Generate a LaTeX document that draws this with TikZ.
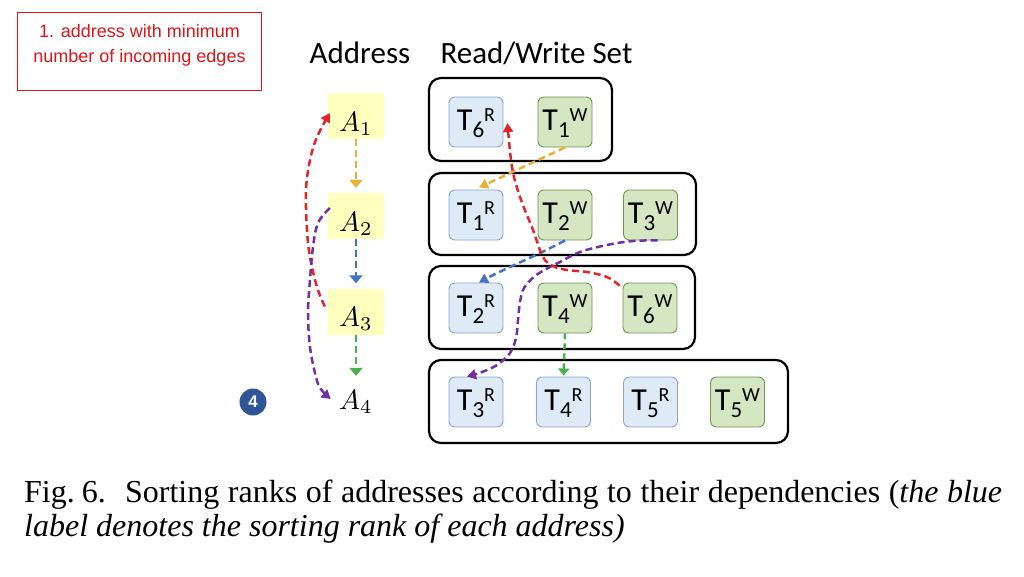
\documentclass[tikz,border=0pt]{standalone}
\usepackage{graphicx}
\usepackage[no-math]{fontspec}
\setmainfont{Liberation Serif}
\newfontfamily\calfont{Carlito}
\newfontfamily\arialfont{Liberation Sans}
\usetikzlibrary{arrows.meta,calc}
\definecolor{rfill}{RGB}{222,235,247}
\definecolor{rdraw}{RGB}{140,163,200}
\definecolor{wfill}{RGB}{212,230,194}
\definecolor{wdraw}{RGB}{110,150,80}
\definecolor{ayel}{RGB}{255,255,190}
\definecolor{corange}{RGB}{234,176,53}
\definecolor{cblue}{RGB}{68,114,196}
\definecolor{cgreen}{RGB}{76,175,80}
\definecolor{cred}{RGB}{229,36,42}
\definecolor{cpurple}{RGB}{112,48,160}
\definecolor{rankblue}{RGB}{47,85,151}
\definecolor{notered}{RGB}{226,20,24}
\newcommand{\tlab}[2]{\raisebox{-8pt}[0pt][0pt]{\calfont\fontsize{32}{32}\selectfont T\raisebox{-7pt}{\fontsize{23}{23}\selectfont #1}\raisebox{9pt}{\fontsize{20}{20}\selectfont #2}}}
\newcommand{\alab}[1]{\raisebox{-15pt}[0pt][0pt]{\scalebox{2.8}{$A_{#1}$}}}
\tikzset{
  tbox/.style={draw, rounded corners=6pt, minimum width=54pt, minimum height=50pt, inner sep=0pt, line width=0.9pt},
  rbox/.style={tbox, fill=rfill, draw=rdraw},
  wbox/.style={tbox, fill=wfill, draw=wdraw},
  grp/.style={draw=black, line width=2.2pt, rounded corners=12pt, inner sep=0pt},
  abox/.style={minimum width=56pt, minimum height=46pt, inner sep=0pt},
  dep/.style={line width=2.5pt, dash pattern=on 7pt off 4pt},
  vtip/.style={-{Triangle[length=8pt,width=13pt]}},
  ctip/.style={-{Triangle[length=9pt,width=10pt]}},
  title/.style={font=\calfont\fontsize{31}{31}\selectfont, anchor=base, inner sep=0pt},
  note/.style={font=\arialfont\fontsize{18}{18}\selectfont, text=notered, anchor=base, inner sep=0pt},
  captext/.style={font=\fontsize{32}{32}\selectfont, anchor=base west, inner sep=0pt},
}
\begin{document}
\begin{tikzpicture}[x=1pt,y=-1pt]
\useasboundingbox (0,0) rectangle (1024,576);
% note box
\node[draw=notered, line width=1.8pt, minimum width=244pt, minimum height=78pt, inner sep=0pt] (notebox) at (139.5,51.5) {};
\node[note] (note1) at (139.5,37) {1. address with minimum};
\node[note] (note2) at (139.5,62) {number of incoming edges};
% titles
\node[title] (tAddr) at (360,63) {Address};
\node[title] (tRW) at (536.5,63) {Read/Write Set};
% group boxes
\node[grp, minimum width=183pt, minimum height=83pt] (g1) at (520.5,119.5) {};
\node[grp, minimum width=267pt, minimum height=82pt] (g2) at (562.5,214) {};
\node[grp, minimum width=266pt, minimum height=83pt] (g3) at (562,307.5) {};
\node[grp, minimum width=359pt, minimum height=83pt] (g4) at (608.5,401.5) {};
% transaction boxes
\node[rbox] (T6R) at (476,122) {\tlab{6}{R}};
\node[wbox] (T1W) at (565,122) {\tlab{1}{W}};
\node[rbox] (T1R) at (476,215) {\tlab{1}{R}};
\node[wbox] (T2W) at (565,215) {\tlab{2}{W}};
\node[wbox] (T3W) at (650.5,215) {\tlab{3}{W}};
\node[rbox] (T2R) at (476,308) {\tlab{2}{R}};
\node[wbox] (T4W) at (565,308) {\tlab{4}{W}};
\node[wbox] (T6W) at (650,308) {\tlab{6}{W}};
\node[rbox] (T3R) at (476,402) {\tlab{3}{R}};
\node[rbox] (T4R) at (563.5,402) {\tlab{4}{R}};
\node[rbox] (T5R) at (650.5,402) {\tlab{5}{R}};
\node[wbox] (T5W) at (737.5,402) {\tlab{5}{W}};
% addresses
\node[abox, fill=ayel] (A1) at (356,116) {\alab{1}};
\node[abox, fill=ayel] (A2) at (356,216) {\alab{2}};
\node[abox, fill=ayel] (A3) at (356,311.5) {\alab{3}};
\node[abox, minimum height=30pt] (A4) at (356,394) {\alab{4}};
\node[circle, fill=rankblue, minimum size=27pt, inner sep=0pt, text=white, font=\arialfont\bfseries\fontsize{17}{17}\selectfont] (rank) at (253,402) {4};
% address arrows
\draw[dep, vtip, corange, shorten >=5pt] (A1.south) -- (A2.north);
\draw[dep, vtip, cblue, shorten >=5pt] (A2.south) -- (A3.north);
\draw[dep, vtip, cgreen, shorten >=3pt] (A3.south) -- (A4.north);
\draw[dep, ctip, cred] plot[smooth, tension=0.6] coordinates {($(A3.west)+(-3,-5)$) (317,287) (310,257) (307,230) (306,190) (310,160) (317,137) ($(A1.west)+(2,-3)$)};
\draw[dep, ctip, cpurple] plot[smooth, tension=0.6] coordinates {($(A2.west)+(2,-8)$) (318,223) (313,247) (310,280) (308,313) (310,347) (315,373) (320,388) ($(A4.west)+(3,5)$)};
% set arrows
\draw[dep, ctip, corange] (T1W.south) -- ($(T1R.north)+(3,-2)$);
\draw[dep, ctip, cblue] (T2W.south) .. controls (540,254) and (502,270) .. ($(T2R.north)+(3,0)$);
\draw[dep, -{Triangle[length=7pt,width=11pt]}, cgreen, dash pattern=on 6pt off 4pt] (T4W.south) -- ($(T4R.north)+(0,-1)$);
\draw[dep, ctip, cred] plot[smooth, tension=0.6] coordinates {($(T6W.north west)+(-3,3)$) (607,277) (587,272) (567,270) (553,266) (543,257) (533,230) (520,197) (512,167) ($(T6R.east)+(4,1)$)};
\draw[dep, ctip, cpurple] plot[smooth, tension=0.6] coordinates {($(T3W.south)+(7,0)$) (633,241) (607,245) (580,252) (560,262) (548,268) (535,276) (524,288) (520,302) (518,320) (516,338) (510,353) (497,365) (482,372) ($(T3R.north)+(-9,0)$)};
% caption
\node[captext] (cap1) at (24,502) {\makebox[978pt][s]{Fig.\hspace{0.22em}6.\hspace{0.6em}Sorting ranks of addresses according to their dependencies (\textit{the blue}}};
\node[captext] (cap2) at (24,536) {\textit{label denotes the sorting rank of each address)}};
\end{tikzpicture}
\end{document}
